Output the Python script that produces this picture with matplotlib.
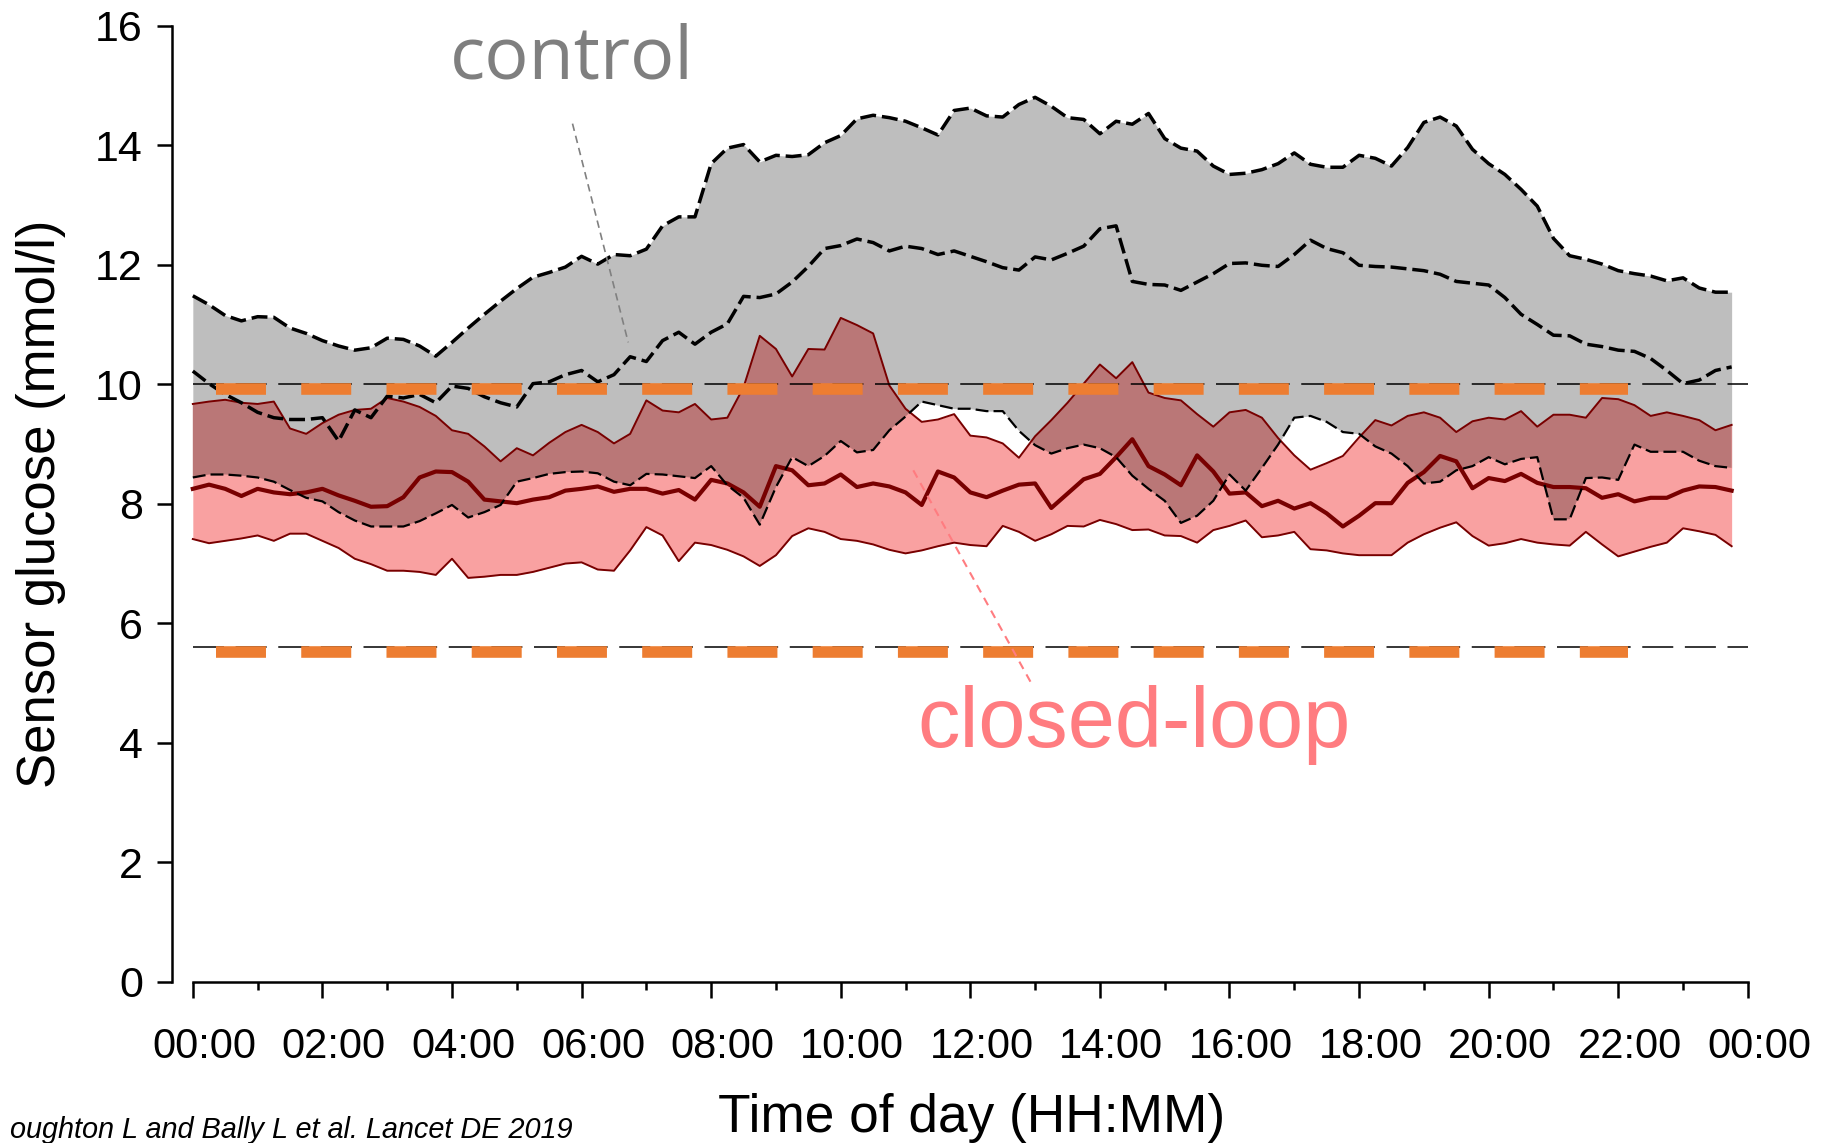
import numpy as np
import matplotlib.pyplot as plt
import matplotlib.transforms as mtransforms

plt.rcParams['font.family'] = ['Liberation Sans', 'DejaVu Sans']

# sensor glucose (mmol/l), 15-min steps from 00:00 to 23:45
ctrl_upper = [11.48, 11.33, 11.15, 11.06, 11.13, 11.12, 10.94, 10.85, 10.73, 10.64,
              10.57, 10.61, 10.77, 10.75, 10.64, 10.47, 10.70, 10.94, 11.17, 11.39,
              11.60, 11.79, 11.87, 11.96, 12.14,
              12.01, 12.17, 12.15, 12.26, 12.65, 12.80, 12.80, 13.69, 13.95, 14.01,
              13.72, 13.83, 13.81, 13.84, 14.04, 14.16, 14.44, 14.50, 14.46, 14.40,
              14.29, 14.17, 14.58, 14.62,
              14.49, 14.47, 14.68, 14.80, 14.65, 14.46, 14.43, 14.19, 14.40, 14.35,
              14.53, 14.11, 13.95, 13.90, 13.65, 13.51, 13.53, 13.59, 13.69, 13.87,
              13.68, 13.63, 13.63, 13.83,
              13.78, 13.65, 13.96, 14.38, 14.47, 14.32, 13.93, 13.69, 13.51, 13.26,
              12.98, 12.44, 12.15, 12.09, 12.01, 11.90, 11.85, 11.81, 11.73, 11.78,
              11.61, 11.54, 11.54]
ctrl_median = [10.22, 10.01, 9.83, 9.69, 9.53, 9.44, 9.41, 9.41, 9.44, 9.05,
               9.57, 9.44, 9.80, 9.77, 9.83, 9.69, 9.97, 9.93, 9.79, 9.69,
               9.62, 10.01, 10.04, 10.16, 10.23,
               10.04, 10.16, 10.46, 10.38, 10.73, 10.87, 10.67, 10.87, 11.01, 11.47,
               11.45, 11.51, 11.71, 11.97, 12.27, 12.32, 12.43, 12.37, 12.23, 12.31,
               12.27, 12.17, 12.23, 12.14,
               12.05, 11.95, 11.91, 12.13, 12.08, 12.19, 12.31, 12.60, 12.65, 11.72,
               11.67, 11.66, 11.57, 11.71, 11.85, 12.02, 12.03, 11.99, 11.97, 12.17,
               12.41, 12.27, 12.20, 11.99,
               11.97, 11.96, 11.93, 11.90, 11.84, 11.72, 11.69, 11.66, 11.45, 11.17,
               11.00, 10.82, 10.81, 10.67, 10.63, 10.57, 10.55, 10.43, 10.23, 10.01,
               10.07, 10.23, 10.29]
ctrl_lower = [8.44, 8.49, 8.49, 8.47, 8.44, 8.37, 8.23, 8.10, 8.04, 7.86,
              7.72, 7.62, 7.62, 7.62, 7.71, 7.84, 7.98, 7.77, 7.86, 7.98,
              8.37, 8.43, 8.50, 8.53, 8.54,
              8.51, 8.37, 8.31, 8.50, 8.49, 8.46, 8.43, 8.63, 8.31, 8.10,
              7.65, 8.28, 8.78, 8.63, 8.80, 9.05, 8.86, 8.90, 9.23, 9.46,
              9.71, 9.65, 9.59, 9.59,
              9.55, 9.55, 9.22, 8.98, 8.84, 8.93, 8.99, 8.93, 8.78, 8.47,
              8.25, 8.05, 7.68, 7.80, 8.05, 8.49, 8.22, 8.60, 8.99, 9.44,
              9.47, 9.37, 9.20, 9.17,
              8.96, 8.84, 8.63, 8.34, 8.37, 8.56, 8.63, 8.78, 8.66, 8.75,
              8.78, 7.74, 7.74, 8.43, 8.44, 8.40, 8.99, 8.87, 8.87, 8.87,
              8.72, 8.63, 8.60]
cl_upper = [9.67, 9.71, 9.74, 9.69, 9.67, 9.71, 9.26, 9.17, 9.35, 9.49,
            9.57, 9.59, 9.77, 9.71, 9.62, 9.47, 9.23, 9.17, 8.96, 8.71,
            8.93, 8.81, 9.02, 9.20, 9.32,
            9.20, 9.01, 9.17, 9.73, 9.56, 9.53, 9.67, 9.41, 9.44, 9.95,
            10.81, 10.59, 10.13, 10.59, 10.58, 11.11, 10.99, 10.85, 9.98, 9.59,
            9.37, 9.41, 9.50, 9.14,
            9.11, 9.01, 8.77, 9.13, 9.40, 9.69, 10.01, 10.33, 10.10, 10.37,
            9.86, 9.77, 9.73, 9.50, 9.29, 9.53, 9.57, 9.44, 9.10, 8.81,
            8.57, 8.68, 8.80, 9.11,
            9.40, 9.31, 9.47, 9.53, 9.44, 9.20, 9.38, 9.44, 9.41, 9.55,
            9.29, 9.49, 9.49, 9.44, 9.77, 9.75, 9.65, 9.47, 9.53, 9.47,
            9.40, 9.23, 9.32]
cl_median = [8.25, 8.32, 8.25, 8.13, 8.25, 8.19, 8.16, 8.19, 8.25, 8.14,
             8.05, 7.95, 7.96, 8.11, 8.44, 8.54, 8.53, 8.37, 8.07, 8.04,
             8.01, 8.07, 8.11, 8.22, 8.25,
             8.29, 8.20, 8.25, 8.25, 8.17, 8.23, 8.07, 8.40, 8.34, 8.19,
             7.95, 8.63, 8.56, 8.31, 8.34, 8.49, 8.28, 8.34, 8.29, 8.19,
             7.98, 8.54, 8.44, 8.19,
             8.11, 8.22, 8.32, 8.34, 7.93, 8.17, 8.41, 8.50, 8.78, 9.08,
             8.63, 8.49, 8.31, 8.81, 8.54, 8.17, 8.19, 7.96, 8.05, 7.92,
             8.01, 7.84, 7.62, 7.80,
             8.01, 8.01, 8.35, 8.53, 8.80, 8.71, 8.26, 8.43, 8.38, 8.50,
             8.35, 8.28, 8.28, 8.26, 8.10, 8.16, 8.04, 8.10, 8.10, 8.22,
             8.29, 8.28, 8.22]
cl_lower = [7.41, 7.34, 7.38, 7.42, 7.47, 7.38, 7.50, 7.50, 7.38, 7.26,
            7.08, 6.99, 6.88, 6.88, 6.86, 6.81, 7.08, 6.76, 6.78, 6.81,
            6.81, 6.86, 6.93, 7.00, 7.02,
            6.90, 6.88, 7.22, 7.61, 7.47, 7.04, 7.35, 7.31, 7.23, 7.12,
            6.96, 7.14, 7.46, 7.59, 7.53, 7.41, 7.38, 7.32, 7.23, 7.17,
            7.22, 7.29, 7.35, 7.31,
            7.29, 7.63, 7.53, 7.38, 7.49, 7.63, 7.62, 7.73, 7.66, 7.56,
            7.57, 7.47, 7.46, 7.35, 7.56, 7.63, 7.72, 7.44, 7.47, 7.53,
            7.24, 7.22, 7.17, 7.14,
            7.14, 7.14, 7.35, 7.49, 7.60, 7.69, 7.46, 7.30, 7.34, 7.41,
            7.35, 7.32, 7.30, 7.53, 7.32, 7.12, 7.20, 7.28, 7.35, 7.59,
            7.54, 7.48, 7.29]

hours = np.arange(len(ctrl_upper)) * 0.25

tick_hours = list(range(0, 25, 2))
tick_labels = ['00:00', '02:00', '04:00', '06:00', '08:00', '10:00', '12:00',
               '14:00', '16:00', '18:00', '20:00', '22:00', '00:00']
ref_levels = [10, 5.6]          # thin black dashed
target_levels = [9.92, 5.52]    # orange overlay
target_span = [0.36, 22.15]

c_gray = '#BEBEBE'
c_pink = '#F9A1A1'
c_both = '#BA7777'
c_dark = '#780000'

fig = plt.figure(figsize=(18.21, 11.43), dpi=100)
ax = fig.add_axes([0.0945, 0.1409, 0.8671, 0.8367])

# bands
ax.fill_between(hours, ctrl_lower, ctrl_upper, color=c_gray, lw=0, zorder=1)
ax.fill_between(hours, cl_lower, cl_upper, color=c_pink, lw=0, zorder=2)
lo = np.maximum(ctrl_lower, cl_lower)
hi = np.minimum(ctrl_upper, cl_upper)
ax.fill_between(hours, lo, hi, where=hi > lo, interpolate=True,
                color=c_both, lw=0, zorder=3)

# closed-loop lines
ax.plot(hours, cl_upper, color=c_dark, lw=1.4, zorder=4)
ax.plot(hours, cl_lower, color=c_dark, lw=1.4, zorder=4)
ax.plot(hours, cl_median, color=c_dark, lw=3.0, zorder=4)

# control lines
ax.plot(hours, ctrl_upper, color='black', lw=2.5, ls=(0, (4.6, 1.7)), zorder=5)
ax.plot(hours, ctrl_median, color='black', lw=2.5, ls=(0, (4.6, 1.7)), zorder=5)
ax.plot(hours, ctrl_lower, color='black', lw=1.6, ls=(0, (5.8, 2.3)), zorder=5)

for lev in ref_levels:
    ax.plot([0, 24], [lev, lev], color='black', lw=1.1,
            ls=(0, (20.3, 7.6)), zorder=6)
for lev in target_levels:
    ax.plot(target_span, [lev, lev], color='#ED7D31', lw=8.35,
            ls=(0, (4.31, 3.04)), zorder=7)

# pointer lines + labels
ax.plot([5.86, 6.72], [14.36, 10.70], color='#808080', lw=1.2,
        ls=(0, (4.5, 3)), zorder=8)
ax.plot([11.12, 12.94], [8.56, 5.0], color='#FF7C80', lw=1.5,
        ls=(0, (4, 3)), zorder=8)
ax.text(5.85, 15.11, 'control', family=['Open Sans', 'DejaVu Sans'],
        fontsize=53, color='#7F7F7F', ha='center', va='baseline',
        clip_on=False)
ax.text(14.53, 3.93, 'closed-loop', fontsize=61, color='#FF7C80',
        ha='center', va='baseline')

ax.set_xlim(-0.32, 24.05)
ax.set_ylim(0, 16)
ax.set_xticks(tick_hours)
ax.set_xticklabels(tick_labels)
ax.set_xticks(range(1, 24, 2), minor=True)
ax.set_yticks(range(0, 17, 2))
ax.tick_params(axis='x', which='major', length=11.5, width=1.8, pad=21,
               labelsize=30)
ax.tick_params(axis='x', which='minor', length=6, width=1.8)
ax.tick_params(axis='y', length=11, width=1.8, pad=10, labelsize=31)
for s in ['top', 'right']:
    ax.spines[s].set_visible(False)
ax.spines['left'].set_bounds(0, 16)
ax.spines['bottom'].set_bounds(0, 24)
ax.spines['left'].set_linewidth(1.8)
ax.spines['bottom'].set_linewidth(1.8)

# the time labels sit a little right of their ticks
shift = mtransforms.ScaledTranslation(0.115, 0, fig.dpi_scale_trans)
for lab in ax.get_xticklabels():
    lab.set_transform(lab.get_transform() + shift)

fig.text(0.0225, 0.559, 'Sensor glucose (mmol/l)', rotation=90,
         fontsize=38, ha='center', va='center')
fig.text(0.5333, 0.0096, 'Time of day (HH:MM)', fontsize=38.3,
         ha='center', va='baseline')
fig.text(0.3144, 0.0044, 'oughton L and Bally L et al. Lancet DE 2019',
         fontsize=20.8, style='italic', ha='right', va='baseline')

fig.savefig('out.png', dpi=100)
